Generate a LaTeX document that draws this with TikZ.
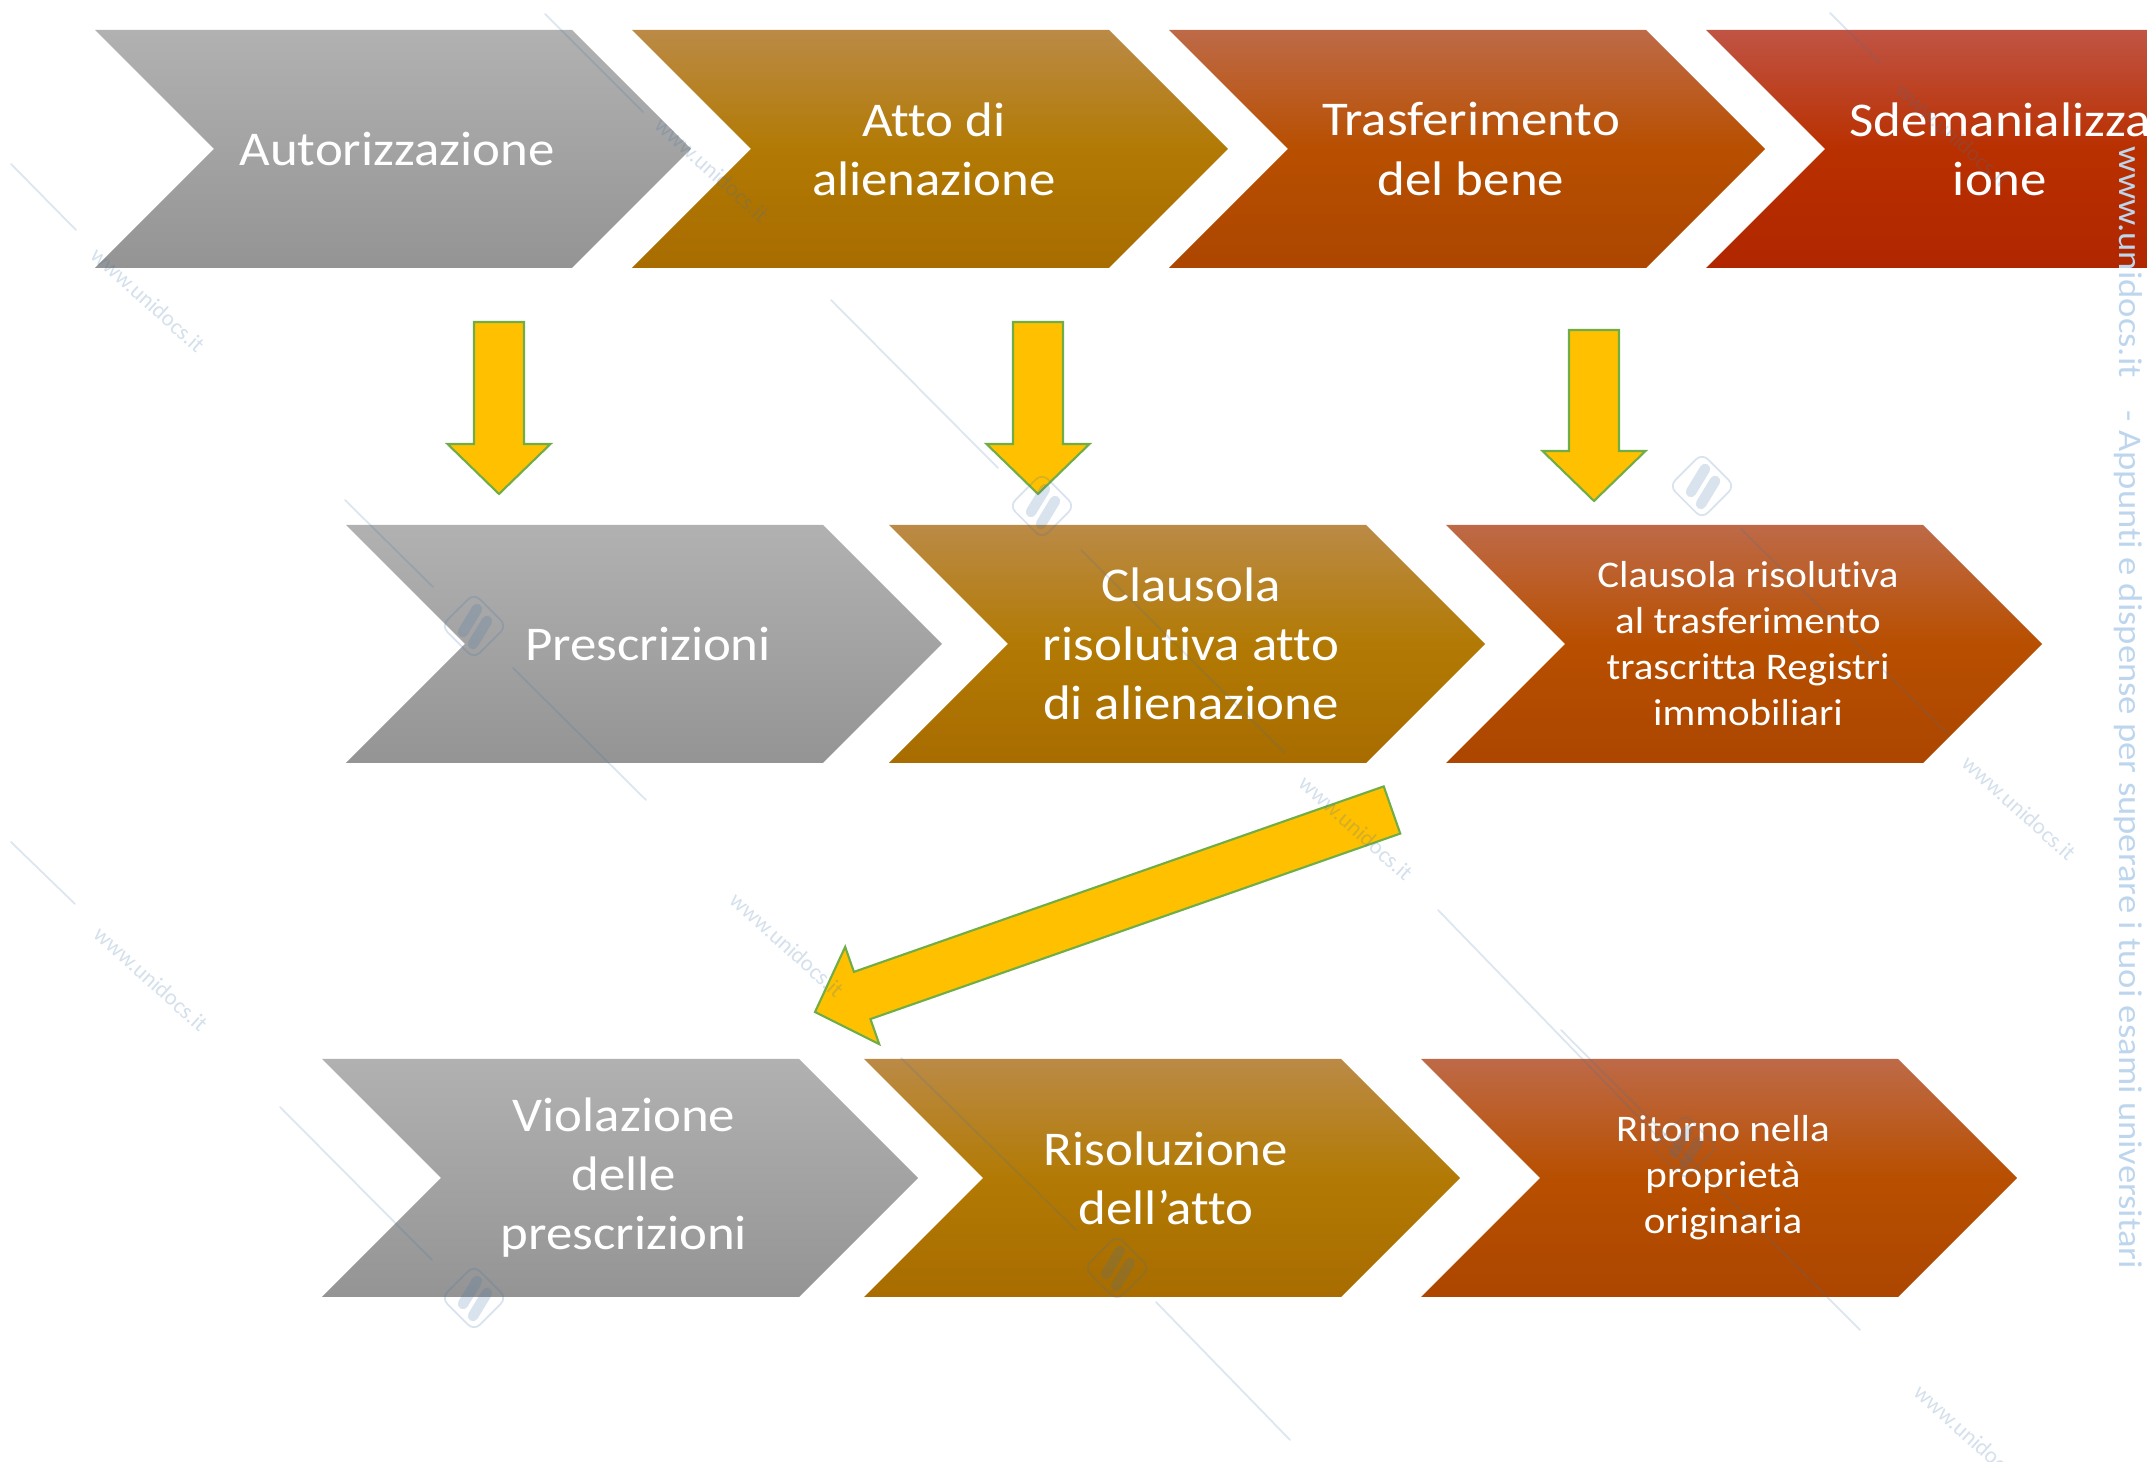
\documentclass[tikz,border=0pt]{standalone}
\usepackage{fontspec}
\setmainfont{Carlito}[FakeStretch=1.09, Ligatures=NoCommon]
\newfontfamily\wmfont{Carlito}[Ligatures=NoCommon]
\newfontfamily\wmlongfont{Carlito}[FakeStretch=1.11, Ligatures=NoCommon]
\usetikzlibrary{calc}

\definecolor{arrowfill}{RGB}{255,192,0}
\definecolor{arrowline}{RGB}{112,173,71}
\definecolor{wmblue}{RGB}{60,115,170}
\definecolor{wmtext}{RGB}{189,214,238}

\tikzset{
  chevgray/.style={top color={rgb,255:red,177;green,177;blue,177},
    bottom color={rgb,255:red,148;green,148;blue,148},
    middle color={rgb,255:red,163;green,163;blue,163}},
  chevgold/.style={top color={rgb,255:red,187;green,138;blue,70},
    bottom color={rgb,255:red,168;green,108;blue,0},
    middle color={rgb,255:red,178;green,122;blue,4}},
  chevorange/.style={top color={rgb,255:red,190;green,106;blue,72},
    bottom color={rgb,255:red,172;green,70;blue,0},
    middle color={rgb,255:red,184;green,79;blue,0}},
  chevred/.style={top color={rgb,255:red,192;green,84;blue,68},
    bottom color={rgb,255:red,176;green,38;blue,0},
    middle color={rgb,255:red,185;green,48;blue,0}},
  steptext/.style={text=white, align=center, inner sep=0pt,
    font=\fontsize{13.8pt}{16.8pt}\selectfont},
  steptextsm/.style={steptext, font=\fontsize{10.7pt}{13.1pt}\selectfont},
  yellowarrow/.style={fill=arrowfill, draw=arrowline, line width=0.6pt,
    line join=miter},
  wmline/.style={draw=wmblue, opacity=0.18, line width=0.5pt},
  wmlabel/.style={text=wmblue, opacity=0.22, inner sep=0pt,
    font=\wmfont\fontsize{6.5pt}{7pt}\selectfont, rotate=-42}
}

% chevron: left corner x, top y, style
\newcommand{\chev}[3]{%
  \path[#3] (#1,#2) -- ++(4.77,0) -- ++(1.19,-1.19) -- ++(-1.19,-1.19)
    -- ++(-4.77,0) -- ++(1.19,1.19) -- cycle;}

% block arrow from tail coordinate to tip coordinate
\newcommand{\blockarrow}[2]{%
  \coordinate (#2b) at ($(#2)!0.5cm!(#1)$);
  \path[yellowarrow] ($(#1)!0.25cm!-90:(#2)$) -- ($(#2b)!0.25cm!-90:(#2)$)
    -- ($(#2b)!0.515cm!-90:(#2)$) -- (#2) -- ($(#2b)!0.515cm!90:(#2)$)
    -- ($(#2b)!0.25cm!90:(#2)$) -- ($(#1)!0.25cm!90:(#2)$) -- cycle;}

% watermark logo
\newcommand{\wmlogo}[2]{%
  \begin{scope}[shift={(#1,#2)}, opacity=0.2]
    \draw[wmblue, line width=0.5pt, rounded corners=0.08cm, rotate=45]
      (-0.23,-0.23) rectangle (0.23,0.23);
    \draw[wmblue, line width=3pt, line cap=round] (0.03,0.17) -- (-0.11,-0.06);
    \draw[wmblue, line width=3pt, line cap=round] (0.13,0.05) -- (-0.01,-0.18);
  \end{scope}}

\begin{document}
\begin{tikzpicture}[line cap=round]
  \useasboundingbox (0,0) rectangle (21.47,-14.62);
  \clip (0,0) rectangle (21.47,-14.62);
  % chevrons
  \foreach \x/\s in {0.95/chevgray,6.32/chevgold,11.69/chevorange,17.06/chevred} {
    \chev{\x}{-0.30}{\s}
  }
  \foreach \x/\s in {3.46/chevgray,8.89/chevgold,14.46/chevorange} {
    \chev{\x}{-5.25}{\s}
  }
  \foreach \x/\s in {3.22/chevgray,8.64/chevgold,14.21/chevorange} {
    \chev{\x}{-10.59}{\s}
  }
  % texts
  \node[steptext] (aut) at (3.97,-1.49) {Autorizzazione};
  \node[steptext] (att) at (9.34,-1.49) {Atto di\\alienazione};
  \node[steptext] (tra) at (14.71,-1.49) {Trasferimento\\del bene};
  \node[steptext] (sde) at (20.00,-1.49) {Sdemanializza\\ione};
  \node[steptext] (pre) at (6.48,-6.44) {Prescrizioni};
  \node[steptext] (cla) at (11.91,-6.44) {Clausola\\risolutiva atto\\di alienazione};
  \node[steptextsm] (clt) at (17.48,-6.44) {Clausola risolutiva\\al trasferimento\\trascritta Registri\\immobiliari};
  \node[steptext] (vio) at (6.24,-11.78) {Violazione\\delle\\prescrizioni};
  \node[steptext] (ris) at (11.66,-11.78) {Risoluzione\\dell’atto};
  \node[steptextsm] (rit) at (17.23,-11.78) {Ritorno nella\\proprietà\\originaria};
  % arrows
  \coordinate (arr1s) at (4.99,-3.22);
  \coordinate (arr1e) at (4.99,-4.94);
  \coordinate (arr2s) at (10.38,-3.22);
  \coordinate (arr2e) at (10.38,-4.94);
  \coordinate (arr3s) at (15.94,-3.30);
  \coordinate (arr3e) at (15.94,-5.01);
  \coordinate (arr4s) at (13.92,-8.10);
  \coordinate (arr4e) at (8.15,-10.12);
  \blockarrow{arr1s}{arr1e}
  \blockarrow{arr2s}{arr2e}
  \blockarrow{arr3s}{arr3e}
  \blockarrow{arr4s}{arr4e}
  % watermark
  \foreach \xa/\ya/\xb/\yb in {5.45/-0.14/6.43/-1.12, 0.11/-1.64/0.76/-2.30,
      8.31/-3.00/9.98/-4.68, 3.45/-5.00/4.33/-5.87, 5.13/-6.68/6.46/-8.00,
      10.81/-5.50/12.85/-7.53, 17.41/-5.29/19.47/-7.33, 2.80/-11.07/4.32/-12.60,
      9.01/-10.58/10.76/-12.30, 11.56/-13.02/12.90/-14.40, 15.61/-10.30/18.60/-13.30,
      14.38/-9.10/16.84/-11.64, 0.11/-8.42/0.75/-9.04, 18.30/-0.13/18.80/-0.63} {
    \draw[wmline] (\xa,\ya) -- (\xb,\yb);
  }
  \foreach \x/\y [count=\i] in {1.48/-3.00, 1.51/-9.79, 7.87/-9.45, 13.56/-8.28,
      20.19/-8.08, 19.71/-14.37, 19.53/-1.35, 7.12/-1.70} {
    \node[wmlabel] (wm\i) at (\x,\y) {www.unidocs.it};
  }
  \foreach \x/\y in {4.74/-6.26, 10.42/-5.06, 17.02/-4.86, 4.74/-12.98,
      11.17/-12.68, 16.85/-11.47} {
    \wmlogo{\x}{\y}
  }
  \node[text=wmtext, rotate=-90, inner sep=0pt,
    font=\wmlongfont\fontsize{9.4pt}{10pt}\selectfont] (wmv) at (21.28,-7.08)
    {www.unidocs.it\quad- Appunti e dispense per superare i tuoi esami universitari};
\end{tikzpicture}
\end{document}
